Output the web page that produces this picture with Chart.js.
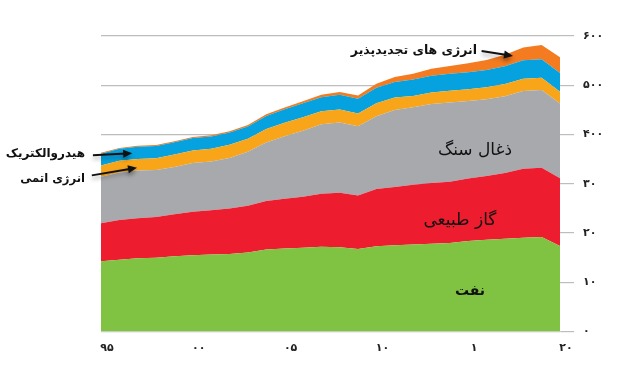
<!DOCTYPE html>
<html><head><meta charset="utf-8">
<script src="https://cdn.jsdelivr.net/npm/chart.js@4.4.1/dist/chart.umd.min.js"></script>
<style>html,body{margin:0;padding:0;background:#fff;}#wrap{width:618px;height:369px;}</style>
</head><body><div id="wrap"><canvas id="c" width="618" height="369"></canvas></div>
<script>
// Data (exajoules), 1995-2020
const years = [1995,1996,1997,1998,1999,2000,2001,2002,2003,2004,2005,2006,2007,2008,2009,2010,2011,2012,2013,2014,2015,2016,2017,2018,2019,2020];
const oil = [142.4,145.5,148.9,149.9,153.0,155.0,156.1,157.5,160.2,166.3,168.4,170.0,172.1,171.2,167.7,173.3,174.9,176.5,178.4,179.6,183.6,186.4,188.5,190.6,191.9,173.7];
const gas = [77.5,81.0,81.3,82.6,85.2,88.4,90.0,92.5,95.0,98.6,101.3,103.8,107.5,110.4,108.2,115.8,118.3,121.6,123.0,124.3,127.0,129.5,133.3,139.8,140.5,137.6];
const coal = [94.3,96.3,96.5,95.2,96.0,98.5,99.0,102.5,110.0,119.0,127.0,134.0,141.0,143.0,141.0,148.0,156.5,157.0,160.5,161.0,157.5,155.5,156.0,158.0,157.9,151.4];
const nuclear = [22.9,23.8,23.8,24.2,25.0,25.6,26.2,26.5,26.2,27.1,27.1,27.3,26.5,26.3,25.9,26.4,25.2,23.2,23.3,23.7,24.0,24.3,24.5,25.0,24.9,24.0];
const hydro = [24.0,24.3,24.7,24.9,25.0,25.3,24.8,25.0,25.0,26.5,27.3,28.2,28.5,29.6,29.6,31.3,31.7,33.2,34.2,34.6,34.5,35.5,36.1,37.2,37.7,38.2];
const renewables = [1.6,1.7,1.8,2.0,2.1,2.3,2.4,2.7,3.0,3.4,3.9,4.4,5.1,6.0,7.0,8.4,10.0,11.9,13.9,15.8,17.9,20.1,23.3,26.0,29.0,31.7];

const xTickValues = [1995,2000,2005,2010,2015,2020];
const xTickLabels = ['۹۵','۰۰','۰۵','۱۰','۱','۲۰'];
const yTickValues = [0,100,200,300,400,500,600];
const yTickLabels = ['۰','۱۰','۲۰','۳۰','۴۰۰','۵۰۰','۶۰۰'];

const seriesNames = ['نفت','گاز طبیعی','ذغال سنگ','انرژی اتمی','هیدروالکتریک','انرژی های تجدیدپذیر'];
const seriesValues = [oil,gas,coal,nuclear,hydro,renewables];
const seriesColors = ['#80C242','#ED1C2E','#A7A9AC','#F9A51A','#05A2DF','#F47B20'];

const FONT = '"DejaVu Sans", sans-serif';

const datasets = seriesValues.map((vals,i)=>({
  label: seriesNames[i],
  data: years.map((yr,j)=>({x:yr,y:vals[j]})),
  backgroundColor: seriesColors[i],
  borderColor: seriesColors[i],
  borderWidth: 0,
  pointRadius: 0,
  tension: 0,
  fill: i===0 ? 'origin' : '-1'
}));

// annotation texts placed in data coordinates
const labelsInChart = [
  {text:'ذغال سنگ', x:2015.37, y:367, size:17, bold:false, align:'center'},
  {text:'گاز طبیعی', x:2014.55, y:226, size:17, bold:false, align:'center'},
  {text:'نفت', x:2015.1, y:81, size:14, bold:true, align:'center'},
  {text:'انرژی های تجدیدپذیر', x:2015.48, y:570, size:12.5, bold:true, align:'right'},
  {text:'هیدروالکتریک', x:1994.13, y:360, size:12, bold:true, align:'right'},
  {text:'انرژی اتمی', x:1994.13, y:309, size:11.6, bold:true, align:'right'}
];
const arrows = [
  {x1:1994.56, y1:358, x2:1996.7, y2:362},
  {x1:1994.5, y1:317, x2:1996.96, y2:332.6},
  {x1:2015.73, y1:569.6, x2:2017.44, y2:559.4}
];

const annotate = {
  id:'annotate',
  afterDatasetsDraw(chart){
    const ctx = chart.ctx, xs = chart.scales.x, ys = chart.scales.y;
    ctx.save();
    arrows.forEach(a=>{
      const x1=xs.getPixelForValue(a.x1), y1=ys.getPixelForValue(a.y1);
      const x2=xs.getPixelForValue(a.x2), y2=ys.getPixelForValue(a.y2);
      const ang=Math.atan2(y2-y1,x2-x1);
      ctx.save();
      ctx.shadowColor='rgba(0,0,0,0.35)'; ctx.shadowBlur=4; ctx.shadowOffsetY=3;
      ctx.strokeStyle='#111'; ctx.fillStyle='#111'; ctx.lineWidth=2;
      ctx.beginPath(); ctx.moveTo(x1,y1); ctx.lineTo(x2-6*Math.cos(ang),y2-6*Math.sin(ang)); ctx.stroke();
      ctx.beginPath();
      ctx.moveTo(x2,y2);
      ctx.lineTo(x2-9*Math.cos(ang)+4*Math.sin(ang), y2-9*Math.sin(ang)-4*Math.cos(ang));
      ctx.lineTo(x2-9*Math.cos(ang)-4*Math.sin(ang), y2-9*Math.sin(ang)+4*Math.cos(ang));
      ctx.closePath(); ctx.fill();
      ctx.restore();
    });
    labelsInChart.forEach(l=>{
      ctx.font=(l.bold?'bold ':'')+l.size+'px '+FONT;
      ctx.fillStyle='#111';
      ctx.textAlign=l.align;
      ctx.textBaseline='middle';
      ctx.direction='rtl';
      ctx.fillText(l.text, xs.getPixelForValue(l.x), ys.getPixelForValue(l.y));
    });
    ctx.restore();
  }
};

new Chart(document.getElementById('c'),{
  type:'line',
  data:{datasets},
  plugins:[annotate],
  options:{
    responsive:false,
    animation:false,
    layout:{padding:{left:101,top:36,right:0,bottom:0}},
    plugins:{legend:{display:false},tooltip:{enabled:false},filler:{propagate:false}},
    scales:{
      x:{
        type:'linear', min:1995, max:2020,
        afterBuildTicks(s){ s.ticks = xTickValues.map(v=>({value:v})); },
        afterFit(s){ s.height = 37.5; },
        grid:{display:false, drawTicks:false},
        border:{display:true,color:'#D0D0D0',width:1},
        ticks:{
          callback:(v)=>{const i=xTickValues.indexOf(v);return i>=0?xTickLabels[i]:'';},
          font:{family:FONT,size:11,weight:'bold'}, color:'#222',
          padding:10, labelOffset:6, maxRotation:0, autoSkip:false
        }
      },
      y:{
        position:'right', stacked:true, min:0, max:600,
        afterBuildTicks(s){ s.ticks = yTickValues.map(v=>({value:v})); },
        afterFit(s){ s.width = 58; },
        grid:{color:'#BDBDBD', lineWidth:1.2, tickLength:14, drawTicks:true},
        border:{display:false},
        ticks:{
          callback:(v)=>{const i=yTickValues.indexOf(v);return i>=0?yTickLabels[i]:'';},
          font:{family:FONT,size:11,weight:'bold'}, color:'#222', padding:9, autoSkip:false
        }
      }
    }
  }
});
</script>
</body></html>
